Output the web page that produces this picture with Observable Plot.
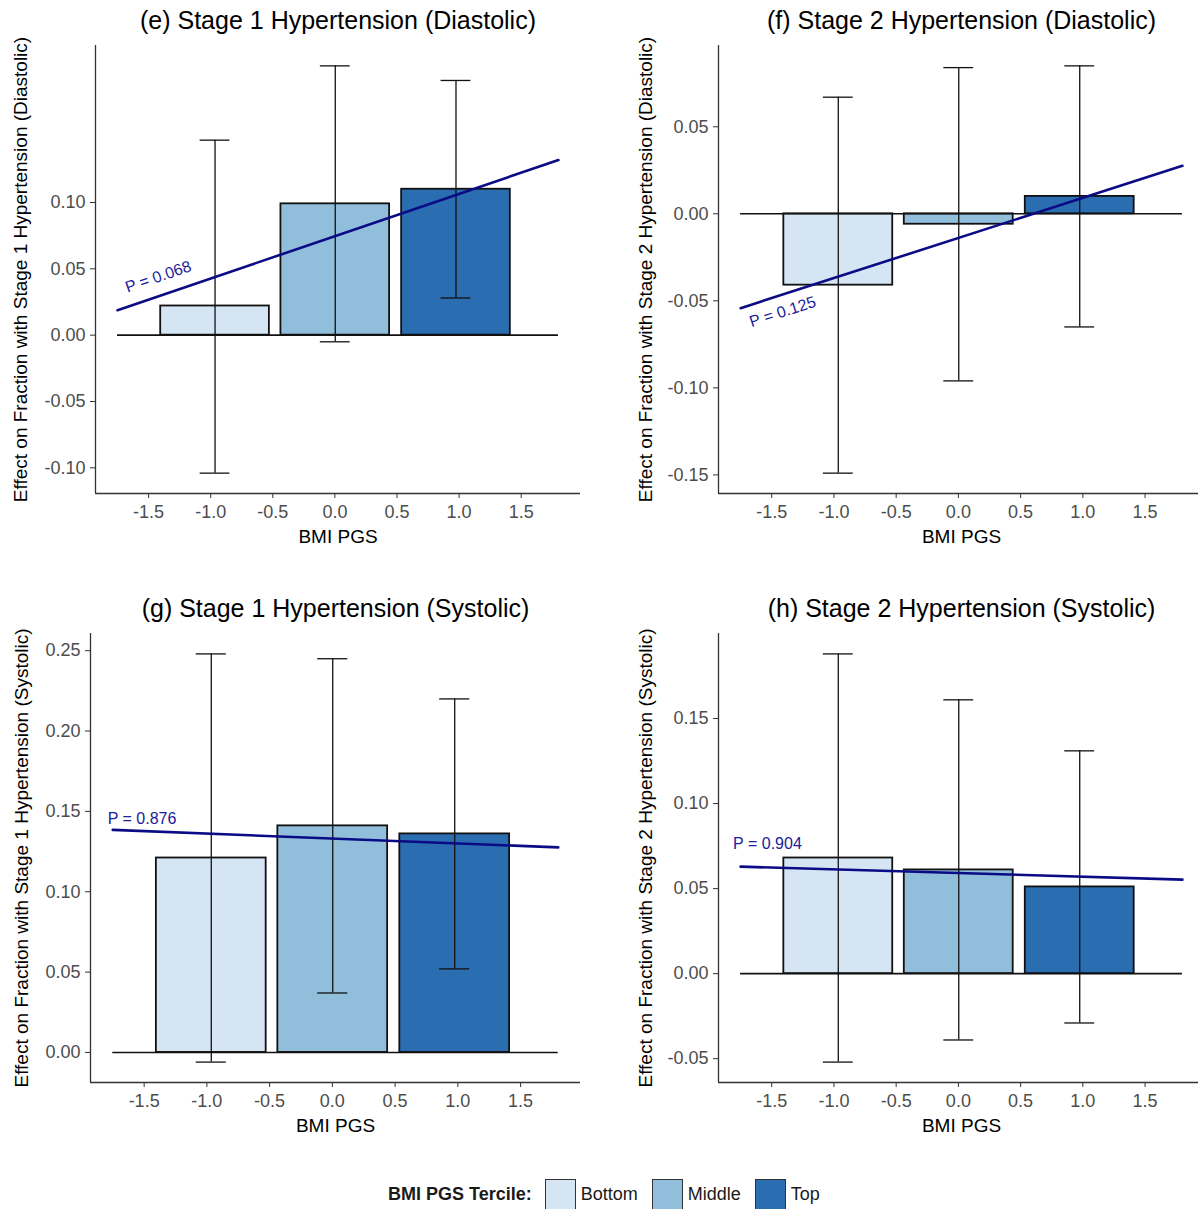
<!DOCTYPE html>
<html>
<head>
<meta charset="utf-8">
<script src="https://cdn.jsdelivr.net/npm/d3@7"></script>
<script src="https://cdn.jsdelivr.net/npm/@observablehq/plot@0.6"></script>
<style>
html, body { margin: 0; padding: 0; background: #fff; overflow: hidden; width: 1198px; height: 1209px; }
#root { position: relative; width: 1198px; height: 1209px; overflow: hidden; font-family: "Liberation Sans", Arial, sans-serif; }
.panel { position: absolute; }
.panel svg { overflow: visible; max-width: none !important; }
.panel g[aria-label*="axis"] text { fill: #4d4d4d; }
.legend { position: absolute; left: 388px; top: 1179px; height: 31px; display: flex; align-items: center; font-size: 18px; color: #1a1a1a; white-space: nowrap; }
.legend .ttl { font-weight: bold; margin-right: 13px; }
.legend .sw { width: 29px; height: 29px; border: 1px solid #333; margin-right: 5px; }
.legend .lab { margin-right: 14px; }
</style>
</head>
<body>
<div id="root"></div>
<script>
// ---------------- data ----------------
const terciles = ["Bottom", "Middle", "Top"];
const pgsMean = [-0.965, 0.003, 0.975];      // mean BMI PGS of each tercile (bar centres)
const fitX = [-1.75, 1.80];                   // x extent of fitted line
const xTicks = [-1.5, -1.0, -0.5, 0.0, 0.5, 1.0, 1.5];
const fillColors = ["#d5e5f4", "#90bedb", "#2b6db1"];

// (e) Stage 1 Hypertension (Diastolic)
const eEst = [0.022, 0.099, 0.110];
const eLo  = [-0.104, -0.005, 0.028];
const eHi  = [0.147, 0.203, 0.192];
const eFit = [0.0188, 0.132];
const eTicks = [-0.10, -0.05, 0.00, 0.05, 0.10];
const eP = "P = 0.068", ePx = -1.67, ePy = 0.032;

// (f) Stage 2 Hypertension (Diastolic)
const fEst = [-0.041, -0.006, 0.010];
const fLo  = [-0.149, -0.096, -0.065];
const fHi  = [0.067, 0.084, 0.085];
const fFit = [-0.0542, 0.0276];
const fTicks = [-0.15, -0.10, -0.05, 0.00, 0.05];
const fP = "P = 0.125", fPx = -1.69, fPy = -0.059;

// (g) Stage 1 Hypertension (Systolic)
const gEst = [0.121, 0.141, 0.136];
const gLo  = [-0.006, 0.037, 0.052];
const gHi  = [0.248, 0.245, 0.220];
const gFit = [0.1385, 0.1276];
const gTicks = [0.00, 0.05, 0.10, 0.15, 0.20, 0.25];
const gP = "P = 0.876", gPx = -1.79, gPy = 0.142;

// (h) Stage 2 Hypertension (Systolic)
const hEst = [0.068, 0.061, 0.051];
const hLo  = [-0.052, -0.039, -0.029];
const hHi  = [0.188, 0.161, 0.131];
const hFit = [0.0629, 0.0553];
const hTicks = [-0.05, 0.00, 0.05, 0.10, 0.15];
const hP = "P = 0.904", hPx = -1.81, hPy = 0.073;

// ---------------- layout ----------------
const FONT = "Liberation Sans, Arial, sans-serif";
const barWidth = 0.875, capHalf = 0.12;

const panels = [
  {title: "(e) Stage 1 Hypertension (Diastolic)", ylab: "Effect on Fraction with Stage 1 Hypertension (Diastolic)",
   est: eEst, lo: eLo, hi: eHi, fit: eFit, ticks: eTicks, p: eP, px: ePx, py: ePy, below: false, tilt: true,
   left: 0, top: 0, width: 599, height: 550, ml: 95, mr: 19, yoff: 75},
  {title: "(f) Stage 2 Hypertension (Diastolic)", ylab: "Effect on Fraction with Stage 2 Hypertension (Diastolic)",
   est: fEst, lo: fLo, hi: fHi, fit: fFit, ticks: fTicks, p: fP, px: fPx, py: fPy, below: true, tilt: true,
   left: 600, top: 0, width: 620, height: 550, ml: 118, mr: 16, yoff: 73},
  {title: "(g) Stage 1 Hypertension (Systolic)", ylab: "Effect on Fraction with Stage 1 Hypertension (Systolic)",
   est: gEst, lo: gLo, hi: gHi, fit: gFit, ticks: gTicks, p: gP, px: gPx, py: gPy, below: false, tilt: false,
   left: 0, top: 588, width: 599, height: 551, ml: 90, mr: 19, yoff: 69},
  {title: "(h) Stage 2 Hypertension (Systolic)", ylab: "Effect on Fraction with Stage 2 Hypertension (Systolic)",
   est: hEst, lo: hLo, hi: hHi, fit: hFit, ticks: hTicks, p: hP, px: hPx, py: hPy, below: false, tilt: false,
   left: 600, top: 588, width: 620, height: 551, ml: 118, mr: 16, yoff: 73}
];

function expand([a, b]) { const p = (b - a) * 0.05; return [a - p, b + p]; }

function makePanel(cfg) {
  const mt = 45, mb = 57;
  const rows = terciles.map((t, i) => ({tercile: t, x: pgsMean[i], est: cfg.est[i], lo: cfg.lo[i], hi: cfg.hi[i]}));
  const fit = fitX.map((x, i) => ({x, y: cfg.fit[i]}));
  const yd = expand(d3.extent([0, ...cfg.est, ...cfg.lo, ...cfg.hi, ...cfg.fit]));
  const xd = expand(d3.extent([...fitX, ...pgsMean.map(m => m - barWidth / 2), ...pgsMean.map(m => m + barWidth / 2)]));
  const plotW = cfg.width - cfg.ml - cfg.mr, plotH = cfg.height - mt - mb;
  const dyPx = (cfg.fit[1] - cfg.fit[0]) / (yd[1] - yd[0]) * plotH;
  const dxPx = (fitX[1] - fitX[0]) / (xd[1] - xd[0]) * plotW;
  const angle = cfg.tilt ? -Math.atan2(dyPx, dxPx) * 180 / Math.PI : 0;
  return Plot.plot({
    width: cfg.width, height: cfg.height,
    marginLeft: cfg.ml, marginRight: cfg.mr, marginTop: mt, marginBottom: mb,
    style: {fontFamily: FONT, fontSize: "18px", color: "#333", background: "transparent", overflow: "visible"},
    x: {domain: xd, ticks: xTicks, tickFormat: d => d.toFixed(1), tickSize: 5, tickPadding: 7, label: null},
    y: {domain: yd, ticks: cfg.ticks, tickFormat: d => d.toFixed(2), tickSize: 5, tickPadding: 5, label: null},
    color: {domain: terciles, range: fillColors},
    marks: [
      Plot.ruleX([xd[0]], {stroke: "#333", strokeWidth: 1.3}),
      Plot.ruleY([yd[0]], {stroke: "#333", strokeWidth: 1.3}),
      Plot.rect(rows, {x1: d => d.x - barWidth / 2, x2: d => d.x + barWidth / 2, y1: 0, y2: "est",
                       fill: "tercile", stroke: "#111", strokeWidth: 1.8}),
      Plot.ruleY([0], {x1: fitX[0], x2: fitX[1], stroke: "#111", strokeWidth: 1.6}),
      Plot.ruleX(rows, {x: "x", y1: "lo", y2: "hi", stroke: "#111", strokeWidth: 1.3}),
      Plot.ruleY(rows, {y: "lo", x1: d => d.x - capHalf, x2: d => d.x + capHalf, stroke: "#111", strokeWidth: 1.3}),
      Plot.ruleY(rows, {y: "hi", x1: d => d.x - capHalf, x2: d => d.x + capHalf, stroke: "#111", strokeWidth: 1.3}),
      Plot.line(fit, {x: "x", y: "y", stroke: "#0b0b85", strokeWidth: 2.6}),
      Plot.text([cfg.p], {x: cfg.px, y: cfg.py, text: d => d, rotate: angle, textAnchor: "start",
                          lineAnchor: cfg.below ? "top" : "bottom", fill: "#20209a", fontSize: 16}),
      Plot.text([cfg.title], {frameAnchor: "top", dy: -25, lineAnchor: "middle", textAnchor: "middle", fontSize: 25, fill: "#000"}),
      Plot.text([cfg.ylab], {frameAnchor: "left", rotate: -90, dx: -cfg.yoff, textAnchor: "middle", lineAnchor: "middle", fontSize: 19, fill: "#000"}),
      Plot.text(["BMI PGS"], {frameAnchor: "bottom", dy: 43, lineAnchor: "middle", textAnchor: "middle", fontSize: 19, fill: "#000"})
    ]
  });
}

const root = document.getElementById("root");
for (const cfg of panels) {
  const div = document.createElement("div");
  div.className = "panel";
  div.style.left = cfg.left + "px";
  div.style.top = cfg.top + "px";
  div.style.width = cfg.width + "px";
  div.style.height = cfg.height + "px";
  div.appendChild(makePanel(cfg));
  root.appendChild(div);
}

// legend
const legend = document.createElement("div");
legend.className = "legend";
const ttl = document.createElement("span");
ttl.className = "ttl";
ttl.textContent = "BMI PGS Tercile:";
legend.appendChild(ttl);
terciles.forEach((t, i) => {
  const sw = document.createElement("span");
  sw.className = "sw";
  sw.style.background = fillColors[i];
  legend.appendChild(sw);
  const lab = document.createElement("span");
  lab.className = "lab";
  lab.textContent = t;
  legend.appendChild(lab);
});
root.appendChild(legend);
</script>
</body>
</html>
